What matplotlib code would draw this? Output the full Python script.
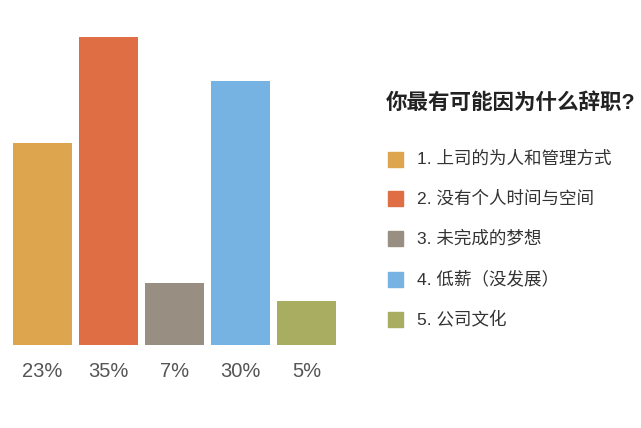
import matplotlib
matplotlib.use("Agg")
import matplotlib.pyplot as plt
from matplotlib.patches import Rectangle

plt.rcParams["font.family"] = ["Liberation Sans", "Noto Sans CJK SC", "DejaVu Sans"]

# data
categories = ["1. 上司的为人和管理方式", "2. 没有个人时间与空间", "3. 未完成的梦想",
              "4. 低薪（没发展）", "5. 公司文化"]
values = [23, 35, 7, 30, 5]
colors = ["#DDA64E", "#E06E45", "#998E82", "#77B3E2", "#A8AD62"]
title = "你最有可能因为什么辞职?"

W, H = 641, 428
fig = plt.figure(figsize=(W / 100, H / 100), dpi=100)

def fx(px): return px / W
def fy(py): return 1 - py / H

# bar axes: bars span px 13..336, baseline at px 345, 35% top at px 37
ax = fig.add_axes([fx(13), fy(345), fx(336 - 13), (345 - 37) / H])
bw = 59 / 66
ax.bar(range(len(values)), values, width=bw, color=colors)
ax.set_xlim(-bw / 2, len(values) - 1 + bw / 2)
ax.set_ylim(0, 35)
ax.axis("off")
for i, v in enumerate(values):
    ax.text(i, -3.05, f"{v}%", ha="center", va="center", fontsize=14.5, color="#555555",
            clip_on=False)

# legend
fig.text(fx(386), fy(103), title, fontsize=15.5, fontweight="bold", color="#222222",
         ha="left", va="center")
rows = [159, 199, 238, 279, 319]
for c, lab, ry in zip(colors, categories, rows):
    fig.patches.append(Rectangle((fx(388), fy(ry + 7.5)), fx(15), 15 / H, color=c,
                                 transform=fig.transFigure))
    fig.text(fx(417), fy(ry), lab, fontsize=12.6, color="#333333", ha="left", va="center")

fig.savefig("out.png", dpi=100)
